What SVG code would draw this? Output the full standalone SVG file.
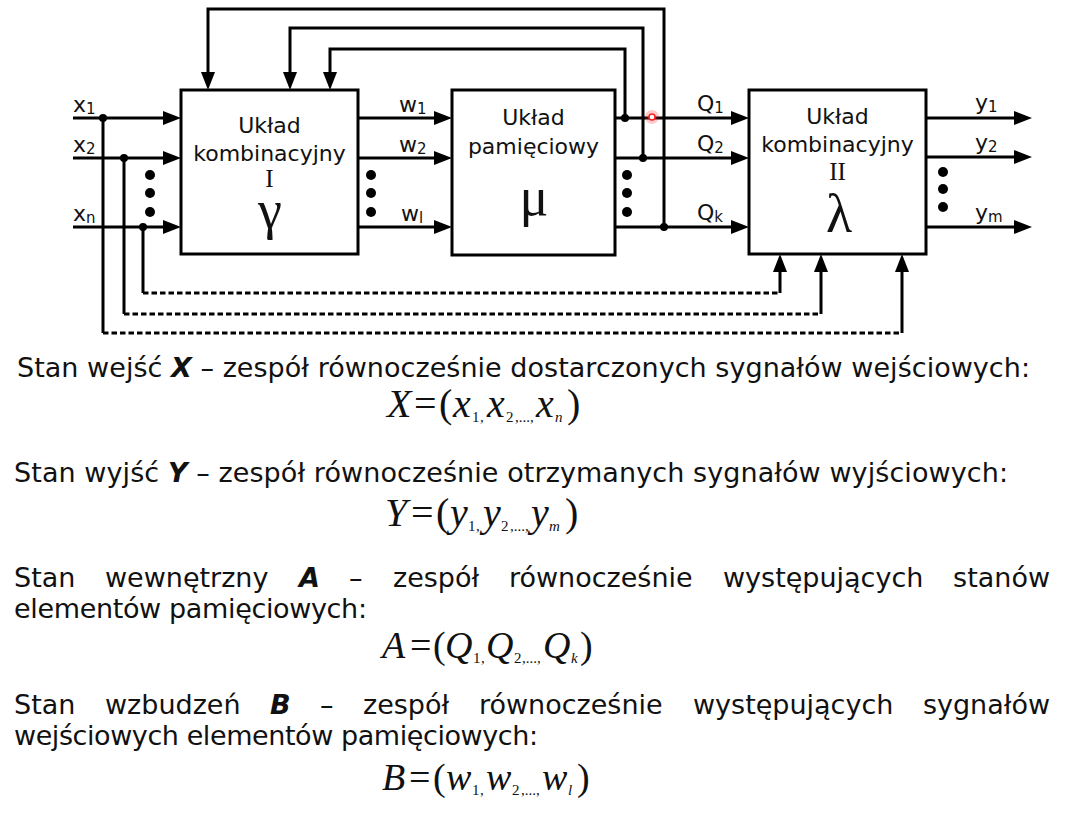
<svg xmlns="http://www.w3.org/2000/svg" width="1070" height="835" viewBox="0 0 1070 835">
<style>
.ln{stroke:#000;stroke-width:3;fill:none}
.dash{stroke-dasharray:5.5 3}
.box{fill:#fff;stroke:#000;stroke-width:3}
.t{font-family:"DejaVu Sans",Verdana,sans-serif;fill:#111}
.lbl{font-size:22px}
.sub{font-size:15px}
.btx{font-size:22px;text-anchor:middle}
.rom{font-family:"Liberation Serif","Times New Roman",serif;fill:#111;text-anchor:middle}
.num{font-size:25px}
.greek{font-size:54px}
.body{font-size:27px}
.m{font-family:"Liberation Serif","Times New Roman",serif;fill:#111}
.m40{font-size:40px}
.m38{font-size:38px}
.mi{font-style:italic}
.ms{font-size:15px}
.dot{fill:#000}
</style>
<defs>
<marker id="ah" markerUnits="userSpaceOnUse" markerWidth="18" markerHeight="14" refX="8" refY="7" orient="auto" viewBox="0 0 18 14">
<path d="M0,0 L18,7 L0,14 z" fill="#000"/>
</marker>
</defs>
<rect width="1070" height="835" fill="#fff"/>

<g id="connectors">
<path class="ln" d="M73,118 H171" marker-end="url(#ah)"/>
<path class="ln" d="M73,158 H171" marker-end="url(#ah)"/>
<path class="ln" d="M73,227 H171" marker-end="url(#ah)"/>
<path class="ln" d="M358,118 H442" marker-end="url(#ah)"/>
<path class="ln" d="M358,158 H442" marker-end="url(#ah)"/>
<path class="ln" d="M358,227 H442" marker-end="url(#ah)"/>
<path class="ln" d="M615,118 H739" marker-end="url(#ah)"/>
<path class="ln" d="M615,158 H739" marker-end="url(#ah)"/>
<path class="ln" d="M615,227 H739" marker-end="url(#ah)"/>
<path class="ln" d="M926,118 H1022" marker-end="url(#ah)"/>
<path class="ln" d="M926,157 H1022" marker-end="url(#ah)"/>
<path class="ln" d="M926,227 H1022" marker-end="url(#ah)"/>
<path class="ln" d="M664,227 V9 H208 V80" marker-end="url(#ah)"/>
<path class="ln" d="M643,158 V28 H290 V80" marker-end="url(#ah)"/>
<path class="ln" d="M625,118 V49 H330 V80" marker-end="url(#ah)"/>
<path class="ln" d="M143,227 V293"/>
<path class="ln dash" d="M143,293 H780"/>
<path class="ln" d="M780,293 V264" marker-end="url(#ah)"/>
<path class="ln" d="M124,158 V314"/>
<path class="ln dash" d="M124,314 H821"/>
<path class="ln" d="M821,314 V264" marker-end="url(#ah)"/>
<path class="ln" d="M103,118 V333"/>
<path class="ln dash" d="M103,333 H902"/>
<path class="ln" d="M902,333 V264" marker-end="url(#ah)"/>
<circle class="dot" cx="103" cy="118" r="4"/>
<circle class="dot" cx="124" cy="158" r="4"/>
<circle class="dot" cx="143" cy="227" r="4"/>
<circle class="dot" cx="625" cy="118" r="4"/>
<circle class="dot" cx="643" cy="158" r="4"/>
<circle class="dot" cx="664" cy="227" r="4"/>
<circle class="dot" cx="150" cy="175" r="5"/>
<circle class="dot" cx="150" cy="193" r="5"/>
<circle class="dot" cx="150" cy="212" r="5"/>
<circle class="dot" cx="371" cy="175" r="5"/>
<circle class="dot" cx="371" cy="193" r="5"/>
<circle class="dot" cx="371" cy="212" r="5"/>
<circle class="dot" cx="627" cy="175" r="5"/>
<circle class="dot" cx="627" cy="193" r="5"/>
<circle class="dot" cx="627" cy="212" r="5"/>
<circle class="dot" cx="943" cy="172" r="5"/>
<circle class="dot" cx="943" cy="189" r="5"/>
<circle class="dot" cx="943" cy="207" r="5"/>
<circle cx="652" cy="117" r="7" fill="#ff3030" opacity="0.25"/>
<circle cx="652" cy="117" r="3" fill="#fff" stroke="#ff2020" stroke-width="1.5"/>
</g>

<g id="box-I">
<rect class="box" x="181" y="90" width="177" height="164"/>
<text class="t btx" x="269.5" y="133">Układ</text>
<text class="t btx" x="269.5" y="161">kombinacyjny</text>
<text class="rom num" x="269.5" y="187">I</text>
<text class="rom greek" x="270" y="228">γ</text>
</g>

<g id="box-mu">
<rect class="box" x="452" y="90" width="163" height="165"/>
<text class="t btx" x="533.5" y="125">Układ</text>
<text class="t btx" x="533.5" y="154">pamięciowy</text>
<text class="rom greek" x="534" y="215">μ</text>
</g>

<g id="box-lambda">
<rect class="box" x="749" y="90" width="177" height="164"/>
<text class="t btx" x="837.5" y="124">Układ</text>
<text class="t btx" x="837.5" y="152">kombinacyjny</text>
<text class="rom num" x="837.5" y="180">II</text>
<text class="rom greek" x="839" y="232">λ</text>
</g>

<g id="labels">
<text class="t lbl" x="73" y="112">x<tspan class="sub" dy="2">1</tspan></text>
<text class="t lbl" x="73" y="152">x<tspan class="sub" dy="2">2</tspan></text>
<text class="t lbl" x="73" y="221">x<tspan class="sub" dy="2">n</tspan></text>
<text class="t lbl" x="399" y="112">w<tspan class="sub" dy="2">1</tspan></text>
<text class="t lbl" x="399" y="152">w<tspan class="sub" dy="2">2</tspan></text>
<text class="t lbl" x="401" y="221">w<tspan class="sub" dy="2">l</tspan></text>
<text class="t lbl" x="697" y="111">Q<tspan class="sub" dy="2">1</tspan></text>
<text class="t lbl" x="697" y="151">Q<tspan class="sub" dy="2">2</tspan></text>
<text class="t lbl" x="697" y="220">Q<tspan class="sub" dy="2">k</tspan></text>
<text class="t lbl" x="975" y="110">y<tspan class="sub" dy="2">1</tspan></text>
<text class="t lbl" x="975" y="150">y<tspan class="sub" dy="2">2</tspan></text>
<text class="t lbl" x="975" y="220">y<tspan class="sub" dy="2">m</tspan></text>
</g>

<g id="text">
<text class="t body" x="17" y="377" textLength="1013" lengthAdjust="spacing">Stan wejść <tspan font-weight="bold" font-style="italic">X</tspan> – zespół równocześnie dostarczonych sygnałów wejściowych:</text>
<text class="m m40" y="417"><tspan class="mi" x="387">X</tspan><tspan x="414">=</tspan><tspan x="439">(</tspan><tspan class="mi" x="453">x</tspan><tspan class="ms" x="472" dy="5">1</tspan><tspan class="ms" x="480">,</tspan><tspan class="mi" x="487" dy="-5">x</tspan><tspan class="ms" x="506" dy="5">2</tspan><tspan class="ms" x="515">,...,</tspan><tspan class="mi" x="536" dy="-5">x</tspan><tspan class="ms mi" x="555" dy="5">n</tspan><tspan x="567" dy="-5">)</tspan></text>

<text class="t body" x="14" y="482" textLength="994" lengthAdjust="spacing">Stan wyjść <tspan font-weight="bold" font-style="italic">Y</tspan> – zespół równocześnie otrzymanych sygnałów wyjściowych:</text>
<text class="m m40" y="526"><tspan class="mi" x="385">Y</tspan><tspan x="411">=</tspan><tspan x="436">(</tspan><tspan class="mi" x="450">y</tspan><tspan class="ms" x="468" dy="5">1</tspan><tspan class="ms" x="476">,</tspan><tspan class="mi" x="483" dy="-5">y</tspan><tspan class="ms" x="501" dy="5">2</tspan><tspan class="ms" x="510">,...,</tspan><tspan class="mi" x="531" dy="-5">y</tspan><tspan class="ms mi" x="549" dy="5">m</tspan><tspan x="565" dy="-5">)</tspan></text>

<text class="t body" y="587"><tspan x="14">Stan</tspan><tspan x="105">wewnętrzny</tspan><tspan x="299" font-weight="bold" font-style="italic">A</tspan><tspan x="349">–</tspan><tspan x="393">zespół</tspan><tspan x="509">równocześnie</tspan><tspan x="723">występujących</tspan></text>
<text class="t body" x="1050" y="587" text-anchor="end">stanów</text>
<text class="t body" x="14" y="618" textLength="353" lengthAdjust="spacing">elementów pamięciowych:</text>
<text class="m m38" y="658"><tspan class="mi" x="382">A</tspan><tspan x="410">=</tspan><tspan x="433">(</tspan><tspan class="mi" x="445">Q</tspan><tspan class="ms" x="473" dy="5">1</tspan><tspan class="ms" x="481">,</tspan><tspan class="mi" x="486" dy="-5">Q</tspan><tspan class="ms" x="514" dy="5">2</tspan><tspan class="ms" x="522">,...,</tspan><tspan class="mi" x="543" dy="-5">Q</tspan><tspan class="ms mi" x="571" dy="5">k</tspan><tspan x="580" dy="-5">)</tspan></text>

<text class="t body" y="714"><tspan x="14">Stan</tspan><tspan x="105">wzbudzeń</tspan><tspan x="270" font-weight="bold" font-style="italic">B</tspan><tspan x="320">–</tspan><tspan x="363">zespół</tspan><tspan x="479">równocześnie</tspan><tspan x="693">występujących</tspan></text>
<text class="t body" x="1050" y="714" text-anchor="end">sygnałów</text>
<text class="t body" x="14" y="745" textLength="524" lengthAdjust="spacing">wejściowych elementów pamięciowych:</text>
<text class="m m38" y="790"><tspan class="mi" x="382">B</tspan><tspan x="409">=</tspan><tspan x="433">(</tspan><tspan class="mi" x="446">w</tspan><tspan class="ms" x="472" dy="5">1</tspan><tspan class="ms" x="480">,</tspan><tspan class="mi" x="486" dy="-5">w</tspan><tspan class="ms" x="512" dy="5">2</tspan><tspan class="ms" x="521">,...,</tspan><tspan class="mi" x="542" dy="-5">w</tspan><tspan class="ms mi" x="568" dy="5">l</tspan><tspan x="577" dy="-5">)</tspan></text>
</g>
</svg>
